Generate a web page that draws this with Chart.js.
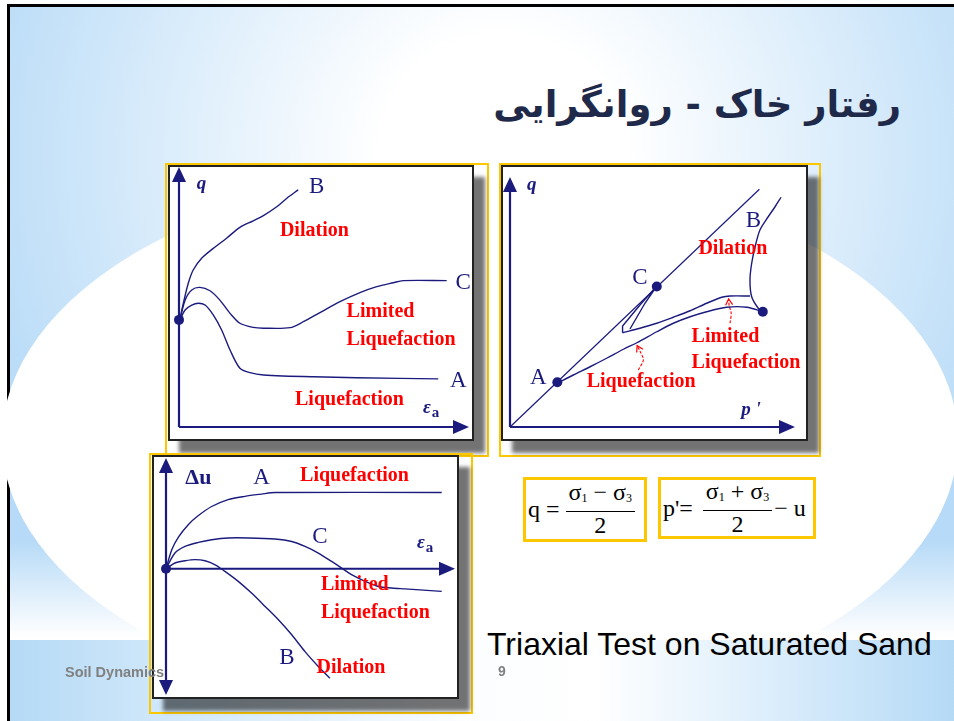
<!DOCTYPE html>
<html>
<head>
<meta charset="utf-8">
<title>Triaxial Test on Saturated Sand</title>
<script src="https://cdn.jsdelivr.net/npm/chart.js@4.4.1/dist/chart.umd.min.js"></script>
<style>
    body { margin: 0; width: 954px; height: 721px; overflow: hidden; background: #fff; position: relative; }
    .abs { position: absolute; }
    #frame { left: 7px; top: 4px; width: 960px; height: 730px; border-left: 3px solid #000; border-top: 3px solid #000; box-sizing: border-box;
        background: radial-gradient(circle 560px at 493px 150px, #ffffff 0%, #ffffff 22%, #b6daf7 100%); }
    #fade { left: 10px; top: 540px; width: 944px; height: 100px; background: linear-gradient(to bottom, rgba(255,255,255,0), #ffffff 97%); }
    #oval { left: 2px; top: 170px; width: 956px; height: 540px; border-radius: 50%; background: #fff; }
    #band { left: 10px; top: 640px; width: 944px; height: 81px;
        background: linear-gradient(to right, #b5daf6 0%, #d3e9fa 18%, #fbfdff 48%, #ffffff 62%, #d9ecfb 82%, #b5daf6 100%); }
    #title { right: 53px; top: 86px; font: bold 37px 'DejaVu Sans', sans-serif; color: #1f2a4a; white-space: nowrap; line-height: 1; }
    .yellow { border: 2px solid #fdc700; box-sizing: border-box; }
    .box { background: #fff; border: 2px solid #222; box-sizing: border-box; box-shadow: 11px 12px 4px rgba(0,0,0,0.55); }
    .formula { border: 3px solid #fdc700; background: #fff; box-sizing: border-box; font: 24px 'Liberation Serif', serif; color: #000;
        display: flex; align-items: center; padding-left: 2px; white-space: nowrap; }
    .frac { display: inline-flex; flex-direction: column; align-items: center; margin: 0 2px 0 6px; }
    .num { border-bottom: 1px solid #000; padding: 0 3px; line-height: 25px; }
    .den { line-height: 27px; }
    sub { font-size: 12px; vertical-align: -2px; }
    #caption { left: 487px; top: 629px; font: 32px 'Liberation Sans', Arial, sans-serif; color: #000; line-height: 31px; white-space: nowrap; }
    .foot { font: bold 14.5px 'Liberation Sans', Arial, sans-serif; color: #808080; line-height: 15px; white-space: nowrap; z-index: 5; }
    canvas { position: absolute; }
</style>
</head>
<body>
<div id="frame" class="abs"></div>
<div id="fade" class="abs"></div>
<div id="oval" class="abs"></div>
<div id="band" class="abs"></div>
<div id="title" class="abs" dir="rtl">رفتار خاک - روانگرایی</div>

<div class="abs yellow" style="left:165px;top:163px;width:324px;height:294px"></div>
<div class="abs box" style="left:168px;top:165px;width:306px;height:276px"></div>
<canvas id="strainChart" width="330" height="290" style="left:160px;top:158px"></canvas>

<div class="abs yellow" style="left:499px;top:163px;width:322px;height:294px"></div>
<div class="abs box" style="left:501px;top:165px;width:307px;height:276px"></div>
<canvas id="pathChart" width="320" height="290" style="left:495px;top:158px"></canvas>

<div class="abs yellow" style="left:149px;top:453px;width:324px;height:261px"></div>
<div class="abs box" style="left:152px;top:455px;width:307px;height:244px"></div>
<canvas id="poreChart" width="320" height="260" style="left:150px;top:450px"></canvas>

<div class="abs formula" style="left:523px;top:477px;width:124px;height:65px">
    q =<span class="frac"><span class="num">σ<sub>1</sub> − σ<sub>3</sub></span><span class="den">2</span></span>
</div>
<div class="abs formula" style="left:658px;top:477px;width:158px;height:62px">
    p'=<span class="frac" style="margin-left:10px"><span class="num">σ<sub>1</sub> + σ<sub>3</sub></span><span class="den">2</span></span>− u
</div>

<div id="caption" class="abs">Triaxial Test on Saturated Sand</div>
<div class="abs foot" style="left:65px;top:665px">Soil Dynamics</div>
<div class="abs foot" style="left:498px;top:664px;font-size:14px">9</div>

<script>
const navy = '#1b1b7e';
const red = '#ff0000';

// q against axial strain (dense B, medium C, loose A)
const strainB = [[0.3, 41.2], [1.5, 47.6], [3.2, 55.3], [4.9, 60.4], [7.8, 64.9], [11.8, 68.7], [16.4, 72.6], [21, 76.8], [25.6, 79.3], [29.1, 81.3], [33.7, 84.7], [37.1, 87.9], [41.1, 91.2]];
const strainC = [[0.3, 41.2], [2.1, 48.8], [4.4, 52.7], [7.2, 53.7], [10.7, 52.4], [14.1, 48.8], [17.6, 43.7], [21, 39.9], [25.6, 38.3], [29.1, 38], [38.3, 38.2], [42.9, 40.5], [48.6, 44], [55.5, 48.2], [62.4, 51.7], [68.2, 54], [73.9, 55.5], [77.3, 56.3], [92.3, 56.3]];
const strainA = [[0.3, 41.2], [2.1, 45], [4.4, 46.9], [6.7, 47.6], [9, 46.9], [11.8, 43.1], [14.7, 37.3], [17.6, 29.6], [21, 22.6], [24.5, 20.9], [29.1, 20], [46.3, 19.3], [76.2, 18.7], [89.4, 18.5]];
const strainStart = [[0, 41.2]];

// stress paths in p'-q space
const critLine = [[0, 0], [87.5, 95.1]];
const pathA = [[88.7, 46.1], [83.1, 47.9], [76, 47.9], [69, 46.1], [63.2, 44.1], [57.3, 41.5], [51.5, 38.1], [44.5, 33.7], [39.8, 31.1], [33.9, 27.5], [28.1, 24.1], [22.2, 20.8], [16.6, 17.5]];
const pathC = [[84.2, 52.4], [77.2, 52.4], [74.3, 51.9], [69, 49.5], [63.2, 46.5], [57.3, 43.9], [51.5, 41.5], [45.6, 39.5], [39.5, 37.7]];
const pathCReturn = [[39.5, 37.7], [39.5, 40.4], [45.6, 48.8], [51.5, 56.4], [47.4, 49.6], [42.1, 39.2]];
const pathB = [[88.7, 46.1], [87.1, 47.5], [84.8, 52.1], [84.2, 58.8], [84.8, 65.5], [86, 72.1], [87.7, 78.8], [90.6, 84.1], [93, 88.1], [95.1, 91.9]];
const pathStates = [[16.6, 17.9], [51.5, 56.2], [88.7, 46.1]];
const pointerLimited = [[77.2, 41.5], [77.6, 45.5], [76.9, 48.6], [76.7, 51.2]];
const pointerLiq = [[45, 22.8], [46.8, 26.8], [45.7, 30.1], [44.6, 32.6]];

// excess pore pressure against axial strain
const poreA = [[0, 0], [2, 8.6], [4.3, 14.3], [7.7, 19.9], [11.1, 23.9], [15.8, 28.1], [21.5, 31.2], [27.3, 32.7], [33, 33.7], [37.7, 34.4], [95.4, 34.4]];
const poreC = [[0, 0], [3.1, 7.1], [6.6, 10.1], [11.2, 11.9], [15.8, 13.1], [21.6, 13.9], [28.5, 13.9], [37.7, 13.4], [43.5, 12.3], [48.1, 10.1], [52.7, 7.1], [57.3, 3.3], [60.8, 0.3], [64.2, -2.7], [68.9, -5.7], [73.5, -8], [78.1, -8.7], [82.7, -9.1], [95.4, -10.2]];
const poreB = [[0, 0], [3.1, 2.6], [6.6, 3.6], [10, 4.1], [13.5, 3.6], [17, 1.8], [20.4, -1.2], [25, -5.7], [29.6, -11], [34.3, -17], [38.9, -23], [43.5, -29.8], [48.1, -37.4], [52.7, -44.1], [56.7, -49.4]];
const poreStart = [[0, 0]];

// text placed in data units: [text, x, y, kind, subscript]
const strainLabels = [
    ['q', 7.8, 93.5, 'axis'], ['B', 47.5, 92.2, 'curve'], ['C', 98, 55.3, 'curve'], ['A', 96.3, 17.8, 'curve'],
    ['Dilation', 34.8, 75.5, 'note'], ['Limited', 57.8, 44.3, 'note'], ['Liquefaction', 57.8, 33.5, 'note'],
    ['Liquefaction', 40, 10.6, 'note'], ['ε', 85.5, 7.3, 'axis', 'a']
];
const pathLabels = [
    ['q', 7.6, 96.8, 'axis'], ['B', 85.4, 82.5, 'curve'], ['C', 45.6, 59.5, 'curve'], ['A', 9.9, 19.5, 'curve'],
    ['Dilation', 66.1, 71.1, 'note'], ['Limited', 63.7, 36.1, 'note'], ['Liquefaction', 63.7, 25.5, 'note'],
    ['Liquefaction', 26.9, 18.1, 'note'], ["p '", 84.6, 6.8, 'axis']
];
const poreLabels = [
    ['Δu', 11.2, 40.9, 'delta'], ['A', 33.1, 40.9, 'curve'], ['C', 53.3, 14.3, 'curve'], ['B', 41.8, -40.3, 'curve'],
    ['Liquefaction', 46.4, 42, 'note'], ['Limited', 53.6, -7.2, 'note'], ['Liquefaction', 53.6, -20, 'note'],
    ['Dilation', 52.1, -44.8, 'note'], ['ε', 88.2, 11.7, 'axis', 'a']
];

const fonts = {
    note: "bold 20px 'Liberation Serif', serif",
    curve: "23px 'Liberation Serif', serif",
    axis: "bold italic 19px 'Liberation Serif', serif",
    delta: "bold 22px 'Liberation Serif', serif"
};

function toXY(points) {
    return points.map(([x, y]) => ({ x, y }));
}

function curve(points, opts = {}) {
    return Object.assign({
        data: toXY(points),
        showLine: true,
        borderColor: navy,
        borderWidth: 1.4,
        pointRadius: 0,
        tension: 0.3,
        clip: false
    }, opts);
}

function dots(points) {
    return {
        data: toXY(points),
        showLine: false,
        pointRadius: 5,
        pointBackgroundColor: navy,
        pointBorderWidth: 0,
        clip: false
    };
}

function arrowHead(ctx, tx, ty, dx, dy, len, half) {
    const n = Math.hypot(dx, dy);
    const ux = dx / n, uy = dy / n;
    ctx.beginPath();
    ctx.moveTo(tx, ty);
    ctx.lineTo(tx - ux * len - uy * half, ty - uy * len + ux * half);
    ctx.lineTo(tx - ux * len + uy * half, ty - uy * len - ux * half);
    ctx.closePath();
    ctx.fill();
}

// axes with arrowheads, drawn under the curves
const axesPlugin = {
    id: 'panelAxes',
    beforeDatasetsDraw(chart) {
        const { ctx, scales: { x, y } } = chart;
        const x0 = x.getPixelForValue(0);
        const y0 = y.getPixelForValue(0);
        const xEnd = x.getPixelForValue(x.max);
        const yTop = y.getPixelForValue(y.max);
        const yBot = y.getPixelForValue(y.min);
        const twoWay = y.min < 0;
        ctx.save();
        ctx.strokeStyle = navy;
        ctx.fillStyle = navy;
        ctx.lineWidth = 2.2;
        ctx.beginPath();
        ctx.moveTo(x0, twoWay ? yBot - 12 : y0);
        ctx.lineTo(x0, yTop + 12);
        ctx.moveTo(x0, y0);
        ctx.lineTo(xEnd - 12, y0);
        ctx.stroke();
        arrowHead(ctx, x0, yTop, 0, -1, 15, 7);
        arrowHead(ctx, xEnd, y0, 1, 0, 16, 7);
        if (twoWay) {
            arrowHead(ctx, x0, yBot, 0, 1, 15, 7);
        }
        ctx.restore();
    },
    afterDatasetsDraw(chart, args, opts) {
        const { ctx, scales: { x, y } } = chart;
        ctx.save();
        // open heads on the red pointers
        chart.data.datasets.forEach(ds => {
            if (!ds.pointer) return;
            const pts = ds.data;
            const a = pts[pts.length - 2], b = pts[pts.length - 1];
            const bx = x.getPixelForValue(b.x), by = y.getPixelForValue(b.y);
            const dx = bx - x.getPixelForValue(a.x), dy = by - y.getPixelForValue(a.y);
            const n = Math.hypot(dx, dy), ux = dx / n, uy = dy / n;
            ctx.strokeStyle = red;
            ctx.lineWidth = 1.2;
            ctx.beginPath();
            ctx.moveTo(bx - ux * 6 - uy * 3.5, by - uy * 6 + ux * 3.5);
            ctx.lineTo(bx, by);
            ctx.lineTo(bx - ux * 6 + uy * 3.5, by - uy * 6 - ux * 3.5);
            ctx.stroke();
        });
        ctx.textBaseline = 'middle';
        (opts.labels || []).forEach(([text, lx, ly, kind, sub]) => {
            const px = x.getPixelForValue(lx);
            const py = y.getPixelForValue(ly);
            ctx.font = fonts[kind];
            ctx.fillStyle = kind === 'note' ? red : navy;
            ctx.textAlign = kind === 'note' ? 'left' : 'center';
            ctx.fillText(text, px, py);
            if (sub) {
                const w = ctx.measureText(text).width;
                ctx.font = "bold 15px 'Liberation Serif', serif";
                ctx.textAlign = 'left';
                ctx.fillText(sub, px + w / 2 + 1, py + 5);
            }
        });
        ctx.restore();
    }
};

function panelOptions(yMin, yMax, padding, labels) {
    return {
        responsive: false,
        animation: false,
        events: [],
        layout: { padding },
        scales: {
            x: { type: 'linear', min: 0, max: 100, display: false },
            y: { type: 'linear', min: yMin, max: yMax, display: false }
        },
        plugins: {
            legend: { display: false },
            tooltip: { enabled: false },
            panelAxes: { labels }
        }
    };
}

new Chart(document.getElementById('strainChart'), {
    type: 'scatter',
    data: {
        datasets: [curve(strainB), curve(strainC), curve(strainA), dots(strainStart)]
    },
    options: panelOptions(0, 100, { left: 19, top: 9, right: 21, bottom: 21 }, strainLabels),
    plugins: [axesPlugin]
});

new Chart(document.getElementById('pathChart'), {
    type: 'scatter',
    data: {
        datasets: [
            curve(critLine, { tension: 0, borderWidth: 1.2 }),
            curve(pathA),
            curve(pathC),
            curve(pathCReturn, { tension: 0 }),
            curve(pathB),
            curve(pointerLimited, { borderColor: red, borderWidth: 1.1, borderDash: [3, 1.5], pointer: true }),
            curve(pointerLiq, { borderColor: red, borderWidth: 1.1, borderDash: [3, 1.5], pointer: true }),
            dots(pathStates)
        ]
    },
    options: panelOptions(0, 100, { left: 15, top: 19, right: 20, bottom: 21 }, pathLabels),
    plugins: [axesPlugin]
});

new Chart(document.getElementById('poreChart'), {
    type: 'scatter',
    data: {
        datasets: [curve(poreA), curve(poreC), curve(poreB), dots(poreStart)]
    },
    options: panelOptions(-57, 50, { left: 16, top: 8, right: 15, bottom: 15 }, poreLabels),
    plugins: [axesPlugin]
});
</script>
</body>
</html>
